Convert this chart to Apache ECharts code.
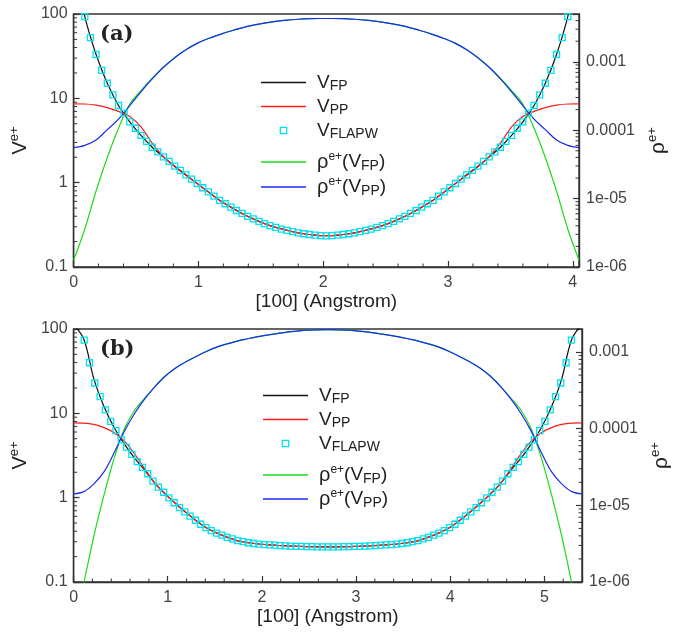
<!DOCTYPE html>
<html>
<head>
<meta charset="utf-8">
<script src="https://cdn.jsdelivr.net/npm/echarts@6/dist/echarts.min.js"></script>
<style>
  html, body { margin: 0; padding: 0; background: #fff; }
  #chart { width: 689px; height: 637px; }
</style>
</head>
<body>
<div id="chart"></div>
<script>
// Positron potential V(e+) and positron density rho(e+) along [100]

// ---------- panel (a): 4.05 Å cell ----------
const cellA = 4.05;
const lineStepA = 0.09;      // sampling of the curves
const flapwStepA = 0.045;    // sampling of the FLAPW reference points
const flapwStartA = 2;       // first FLAPW sample index shown

const vFpA = [400, 92.9, 33.1, 15.1, 8.22, 5.25, 3.63, 2.63, 2.02, 1.57, 1.24, 0.977, 0.776, 0.617, 0.513, 0.432, 0.372, 0.327, 0.295, 0.272, 0.254, 0.243, 0.236,
              0.236, 0.243, 0.254, 0.272, 0.295, 0.327, 0.372, 0.432, 0.513, 0.617, 0.776, 0.977, 1.24, 1.57, 2.02, 2.63, 3.63, 5.25, 8.22, 15.1, 33.1, 92.9, 400];
const vPpA = [8.6, 8.57, 8.3, 7.76, 7.0, 6.1, 4.6, 2.94, 2.03, 1.54, 1.22, 0.975, 0.775, 0.616, 0.512, 0.431, 0.371, 0.327, 0.295, 0.272, 0.254, 0.243, 0.236,
              0.236, 0.243, 0.254, 0.272, 0.295, 0.327, 0.371, 0.431, 0.512, 0.616, 0.775, 0.975, 1.22, 1.54, 2.03, 2.94, 4.6, 6.1, 7.0, 7.76, 8.3, 8.57, 8.6];
const vFlapwA = [92.9, 52.5, 33.1, 21.4, 15.1, 11.0, 8.22, 6.68, 5.25, 4.42, 3.63, 3.09, 2.63, 2.32, 2.02, 1.79, 1.57, 1.40, 1.24, 1.10, 0.977, 0.871,
                 0.776, 0.692, 0.617, 0.562, 0.513, 0.468, 0.432, 0.398, 0.372, 0.347, 0.327, 0.309, 0.295, 0.282, 0.272, 0.263, 0.254, 0.248, 0.243, 0.239, 0.236, 0.234,
                 0.236, 0.239, 0.243, 0.248, 0.254, 0.263, 0.272, 0.282, 0.295, 0.309, 0.327, 0.347, 0.372, 0.398, 0.432, 0.468, 0.513, 0.562, 0.617, 0.692, 0.776,
                 0.871, 0.977, 1.10, 1.24, 1.40, 1.57, 1.79, 2.02, 2.32, 2.63, 3.09, 3.63, 4.42, 5.25, 6.68, 8.22, 11.0, 15.1, 21.4, 33.1, 52.5, 92.9];
const rhoFpA = [1.26e-6, 3.6e-6, 1.29e-5, 4.0e-5, 1.07e-4, 2.4e-4, 3.8e-4, 5.75e-4, 8.32e-4, 1.15e-3, 1.5e-3, 1.86e-3, 2.19e-3, 2.5e-3, 2.82e-3, 3.13e-3, 3.43e-3, 3.67e-3, 3.89e-3, 4.07e-3, 4.19e-3, 4.27e-3, 4.3e-3,
                4.3e-3, 4.27e-3, 4.19e-3, 4.07e-3, 3.89e-3, 3.67e-3, 3.43e-3, 3.13e-3, 2.82e-3, 2.5e-3, 2.19e-3, 1.86e-3, 1.5e-3, 1.15e-3, 8.32e-4, 5.75e-4, 3.8e-4, 2.4e-4, 1.07e-4, 4.0e-5, 1.29e-5, 3.6e-6, 1.26e-6];
const rhoPpA = [5.56e-5, 6.0e-5, 7.2e-5, 1.02e-4, 1.45e-4, 2.29e-4, 3.63e-4, 5.62e-4, 8.32e-4, 1.15e-3, 1.5e-3, 1.86e-3, 2.19e-3, 2.5e-3, 2.82e-3, 3.13e-3, 3.43e-3, 3.67e-3, 3.89e-3, 4.07e-3, 4.19e-3, 4.27e-3, 4.3e-3,
                4.3e-3, 4.27e-3, 4.19e-3, 4.07e-3, 3.89e-3, 3.67e-3, 3.43e-3, 3.13e-3, 2.82e-3, 2.5e-3, 2.19e-3, 1.86e-3, 1.5e-3, 1.15e-3, 8.32e-4, 5.62e-4, 3.63e-4, 2.29e-4, 1.45e-4, 1.02e-4, 7.2e-5, 6.0e-5, 5.56e-5];
const rhoMaxA = 0.005;

// ---------- panel (b): 5.4 Å cell ----------
const cellB = 5.4;
const lineStepB = 0.108;
const flapwStepB = 0.05625;
const flapwStartB = 2;

const vFpB = [112, 76, 25.5, 12.0, 6.76, 4.32, 2.95, 2.11, 1.48, 1.11, 0.86, 0.675, 0.54, 0.443, 0.385, 0.343, 0.312, 0.295, 0.284, 0.277, 0.272, 0.268, 0.265, 0.262, 0.261, 0.261,
              0.261, 0.262, 0.265, 0.268, 0.272, 0.277, 0.284, 0.295, 0.312, 0.343, 0.385, 0.443, 0.54, 0.675, 0.86, 1.11, 1.48, 2.11, 2.95, 4.32, 6.76, 12.0, 25.5, 76, 112];
const vPpB = [7.7, 7.67, 7.41, 6.76, 5.89, 4.68, 3.31, 2.19, 1.48, 1.11, 0.86, 0.675, 0.54, 0.443, 0.385, 0.343, 0.312, 0.295, 0.284, 0.277, 0.272, 0.268, 0.265, 0.262, 0.261, 0.261,
              0.261, 0.262, 0.265, 0.268, 0.272, 0.277, 0.284, 0.295, 0.312, 0.343, 0.385, 0.443, 0.54, 0.675, 0.86, 1.11, 1.48, 2.19, 3.31, 4.68, 5.89, 6.76, 7.41, 7.67, 7.7];
const vFlapwB = [74, 39.8, 22.9, 15.8, 11.0, 8.04, 6.24, 4.84, 3.98, 3.26, 2.68, 2.29, 1.92, 1.57, 1.33, 1.16, 0.993, 0.871, 0.764, 0.679, 0.605, 0.540, 0.484,
                 0.442, 0.407, 0.380, 0.359, 0.339, 0.324, 0.309, 0.301, 0.292, 0.286, 0.282, 0.278, 0.275, 0.273, 0.270, 0.268, 0.267, 0.265, 0.264, 0.262, 0.262, 0.261, 0.261, 0.261,
                 0.261, 0.261, 0.262, 0.262, 0.264, 0.265, 0.267, 0.268, 0.270, 0.273, 0.275, 0.278, 0.282, 0.286, 0.292, 0.301, 0.309, 0.324, 0.339, 0.359, 0.380, 0.407, 0.442,
                 0.484, 0.540, 0.605, 0.679, 0.764, 0.871, 0.993, 1.16, 1.33, 1.57, 1.92, 2.29, 2.68, 3.26, 3.98, 4.84, 6.24, 8.04, 11.0, 15.8, 22.9, 39.8, 74];
const rhoFpB = [2e-7, 9.5e-7, 4.0e-6, 1.38e-5, 4.17e-5, 1.0e-4, 1.74e-4, 2.51e-4, 3.55e-4, 4.84e-4, 6.17e-4, 7.41e-4, 8.71e-4, 1.01e-3, 1.15e-3, 1.27e-3, 1.38e-3, 1.48e-3, 1.58e-3, 1.66e-3, 1.74e-3, 1.82e-3, 1.88e-3, 1.93e-3, 1.95e-3, 1.96e-3,
                1.95e-3, 1.93e-3, 1.88e-3, 1.82e-3, 1.74e-3, 1.66e-3, 1.58e-3, 1.48e-3, 1.38e-3, 1.27e-3, 1.15e-3, 1.01e-3, 8.71e-4, 7.41e-4, 6.17e-4, 4.84e-4, 3.55e-4, 2.51e-4, 1.74e-4, 1.0e-4, 4.17e-5, 1.38e-5, 4.0e-6, 9.5e-7, 2e-7];
const rhoPpB = [1.41e-5, 1.51e-5, 1.91e-5, 2.75e-5, 4.9e-5, 9.3e-5, 1.58e-4, 2.45e-4, 3.55e-4, 4.84e-4, 6.17e-4, 7.41e-4, 8.71e-4, 1.01e-3, 1.15e-3, 1.27e-3, 1.38e-3, 1.48e-3, 1.58e-3, 1.66e-3, 1.74e-3, 1.82e-3, 1.88e-3, 1.93e-3, 1.95e-3, 1.96e-3,
                1.95e-3, 1.93e-3, 1.88e-3, 1.82e-3, 1.74e-3, 1.66e-3, 1.58e-3, 1.48e-3, 1.38e-3, 1.27e-3, 1.15e-3, 1.01e-3, 8.71e-4, 7.41e-4, 6.17e-4, 4.84e-4, 3.55e-4, 2.45e-4, 1.58e-4, 9.3e-5, 4.9e-5, 2.75e-5, 1.91e-5, 1.51e-5, 1.41e-5];
const rhoMaxB = 0.002;

// ---------- axis labels ----------
const leftTickLabels = ['0.1', '1', '10', '100'];            // exponents -1..2
const rightTickLabels = ['1e-06', '1e-05', '0.0001', '0.001']; // exponents -6..-3
const xAxisTitle = '[100] (Angstrom)';
const panelTitles = ['(a)', '(b)'];
const legendLabels = {
  vfp: '{v0|V}{sub|FP}',
  vpp: '{v0|V}{sub|PP}',
  flapw: '{v0|V}{sub|FLAPW}',
  rfp: '{r0|ρ}{sup|e+}{v|(V}{sub|FP}{v|)}',
  rpp: '{r0|ρ}{sup|e+}{v|(V}{sub|PP}{v|)}'
};

// ---------- styling ----------
const FONT = '"Liberation Sans", Arial, Helvetica, sans-serif';
const AXIS = '#333';
const LABEL = '#444';
const C_FP = '#111111';
const C_PP = '#ff1a1a';
const C_FLAPW = '#00e3ee';
const C_RFP = '#17dd17';
const C_RPP = '#1b2bf0';

const pairs = (step, values, start) =>
  values.map((v, i) => [+(((start || 0) + i) * step).toFixed(5), v]);

function expOf(v) {
  const l = Math.log10(v);
  const e = Math.round(l);
  return Math.abs(l - e) < 1e-6 ? e : null;
}

const nameRich = {
  v: { fontSize: 20, fontFamily: FONT, color: '#222', lineHeight: 24 },
  r: { fontSize: 21, fontFamily: FONT, color: '#222', lineHeight: 24 },
  s: { fontSize: 13, fontFamily: FONT, color: '#222', lineHeight: 13, verticalAlign: 'top' }
};

const legendRich = {
  v0: { fontSize: 19, fontFamily: FONT, color: '#222', lineHeight: 22, padding: [0, 0, 0, 6] },
  r0: { fontSize: 20, fontFamily: FONT, color: '#222', lineHeight: 22, padding: [0, 0, 0, 6] },
  v: { fontSize: 19, fontFamily: FONT, color: '#222', lineHeight: 22 },
  sub: { fontSize: 14, fontFamily: FONT, color: '#222', lineHeight: 14, verticalAlign: 'bottom' },
  sup: { fontSize: 12, fontFamily: FONT, color: '#222', lineHeight: 12, verticalAlign: 'top' }
};

function xAxisFor(gridIndex, max) {
  return {
    gridIndex, type: 'value', min: 0, max, interval: 1,
    axisLine: { show: true, lineStyle: { color: AXIS, width: 1.4 } },
    axisTick: { show: true, inside: true, length: 6, lineStyle: { color: AXIS, width: 1.2 } },
    axisLabel: { color: LABEL, fontSize: 16, fontFamily: FONT, margin: 8,
                 formatter: v => (Math.abs(v - Math.round(v)) < 1e-9 ? String(Math.round(v)) : '') },
    splitLine: { show: false },
    name: xAxisTitle, nameLocation: 'middle', nameGap: 24,
    nameTextStyle: { color: '#222', fontSize: 19, fontFamily: FONT }
  };
}

function yLeftFor(gridIndex) {
  return {
    gridIndex, type: 'log', logBase: 10, min: 0.1, max: 100, position: 'left',
    axisLine: { show: true, lineStyle: { color: AXIS, width: 1.4 } },
    axisTick: { show: true, inside: true, length: 6, lineStyle: { color: AXIS, width: 1.2 } },
    axisLabel: { color: LABEL, fontSize: 16, fontFamily: FONT, margin: 6,
                 formatter: v => { const e = expOf(v); return e === null ? '' : leftTickLabels[e + 1] || ''; } },
    splitLine: { show: false },
    name: '{v|V}{s|e+}', nameLocation: 'middle', nameGap: 35,
    nameTextStyle: { rich: nameRich }
  };
}

function yRightFor(gridIndex, max) {
  return {
    gridIndex, type: 'log', logBase: 10, min: 1e-6, max, position: 'right',
    axisLine: { show: true, lineStyle: { color: AXIS, width: 1.4 } },
    axisTick: { show: true, inside: true, length: 6, lineStyle: { color: AXIS, width: 1.2 } },
    axisLabel: { color: LABEL, fontSize: 16, fontFamily: FONT, margin: 7,
                 formatter: v => { const e = expOf(v); return e === null ? '' : rightTickLabels[e + 6] || ''; } },
    splitLine: { show: false },
    name: '{r|ρ}{s|e+}', nameLocation: 'middle', nameGap: 65,
    nameTextStyle: { rich: nameRich }
  };
}

// minor tick marks (log 2..9 per decade on y, 0.2 Å on x) drawn just inside the frame
function minorTicks(xAxisIndex, yAxisIndex, points, dir, len) {
  return {
    type: 'custom', xAxisIndex, yAxisIndex, silent: true, z: 20, clip: false,
    data: points,
    renderItem: (params, api) => {
      const p = api.coord([api.value(0), api.value(1)]);
      const d = dir === 'up' ? [0, -len] : dir === 'right' ? [len, 0] : [-len, 0];
      return { type: 'line', shape: { x1: p[0], y1: p[1], x2: p[0] + d[0], y2: p[1] + d[1] },
               style: { stroke: AXIS, lineWidth: 1 } };
    }
  };
}

function logMinors(lo, hi) {
  const out = [];
  for (let e = Math.floor(Math.log10(lo)); e <= Math.ceil(Math.log10(hi)); e++) {
    for (let m = 2; m <= 9; m++) {
      const v = m * Math.pow(10, e);
      if (v > lo * 1.0001 && v < hi * 0.9999) out.push(+v.toPrecision(3));
    }
  }
  return out;
}
function linMinors(max) {
  const out = [];
  for (let i = 1; i * 0.2 < max - 1e-9; i++) if (i % 5 !== 0) out.push(+(i * 0.2).toFixed(2));
  return out;
}

function panelSeries(p, xi, yl, yr, cell, lineStep, flStep, flStart, d, rhoMax) {
  const line = (name, color, values, yAxisIndex, z) => ({
    name, type: 'line', xAxisIndex: xi, yAxisIndex, z,
    data: pairs(lineStep, values), smooth: 0.35, symbol: 'none',
    lineStyle: { color, width: 1.2 }, itemStyle: { color }
  });
  return [
    line('vfp' + p, C_FP, d.vFp, yl, 3),
    line('vpp' + p, C_PP, d.vPp, yl, 4),
    {
      name: 'flapw' + p, type: 'line', xAxisIndex: xi, yAxisIndex: yl, z: 6,
      data: pairs(flStep, d.vFlapw, flStart), symbol: 'rect', symbolSize: 6, showSymbol: true, showAllSymbol: true,
      lineStyle: { opacity: 0, width: 0 },
      itemStyle: { color: 'rgba(255,255,255,0)', borderColor: C_FLAPW, borderWidth: 1.3 }
    },
    line('rfp' + p, C_RFP, d.rhoFp, yr, 3),
    line('rpp' + p, C_RPP, d.rhoPp, yr, 4),
    minorTicks(xi, yl, linMinors(cell).map(v => [v, 0.1]), 'up', 3.5),
    minorTicks(xi, yl, logMinors(0.1, 100).map(v => [0, v]), 'right', 3.5),
    minorTicks(xi, yr, logMinors(1e-6, rhoMax).map(v => [cell, v]), 'left', 3.5)
  ];
}

const LINE_ICON = 'path://M0 0H45V1.6H0Z';

function legendRow(key, p, left, centerY, color) {
  const isFlapw = key === 'flapw';
  const item = { name: key + p };
  if (isFlapw) {
    item.itemStyle = { color: 'rgba(255,255,255,0)', borderColor: C_FLAPW, borderWidth: 1.3 };
  } else {
    item.icon = LINE_ICON;
    item.itemStyle = { color };
  }
  return {
    orient: 'vertical', left, top: centerY - 11, padding: 0,
    itemWidth: 45, itemHeight: isFlapw ? 8 : 14,
    selectedMode: false, data: [item],
    formatter: () => legendLabels[key],
    textStyle: { rich: legendRich, fontFamily: FONT }
  };
}

function panelLegends(p, left, rows) {
  const keys = ['vfp', 'vpp', 'flapw', 'rfp', 'rpp'];
  const colors = [C_FP, C_PP, C_FLAPW, C_RFP, C_RPP];
  return keys.map((k, i) => legendRow(k, p, left, rows[i], colors[i]));
}

const dataA = { vFp: vFpA, vPp: vPpA, vFlapw: vFlapwA, rhoFp: rhoFpA, rhoPp: rhoPpA };
const dataB = { vFp: vFpB, vPp: vPpB, vFlapw: vFlapwB, rhoFp: rhoFpB, rhoPp: rhoPpB };

const titleStyle = { fontFamily: '"DejaVu Serif", serif', fontWeight: 'bold', fontSize: 21, color: '#222' };

const option = {
  animation: false,
  backgroundColor: '#fff',
  title: [
    { text: panelTitles[0], left: 100, top: 24, padding: 0, textStyle: titleStyle },
    { text: panelTitles[1], left: 100, top: 339, padding: 0, textStyle: titleStyle }
  ],
  grid: [
    { left: 72, top: 14, width: 507, height: 253, show: true, borderColor: AXIS, borderWidth: 1.4, containLabel: false },
    { left: 72, top: 329, width: 510, height: 253, show: true, borderColor: AXIS, borderWidth: 1.4, containLabel: false }
  ],
  xAxis: [xAxisFor(0, cellA), xAxisFor(1, cellB)],
  yAxis: [yLeftFor(0), yRightFor(0, rhoMaxA), yLeftFor(1), yRightFor(1, rhoMaxB)],
  legend: [
    ...panelLegends('a', 261, [84, 108, 132, 162, 187]),
    ...panelLegends('b', 263, [397, 421, 445, 475, 499])
  ],
  series: [
    ...panelSeries('a', 0, 0, 1, cellA, lineStepA, flapwStepA, flapwStartA, dataA, rhoMaxA),
    ...panelSeries('b', 1, 2, 3, cellB, lineStepB, flapwStepB, flapwStartB, dataB, rhoMaxB)
  ]
};

const chart = echarts.init(document.getElementById('chart'));
chart.setOption(option);
</script>
</body>
</html>
